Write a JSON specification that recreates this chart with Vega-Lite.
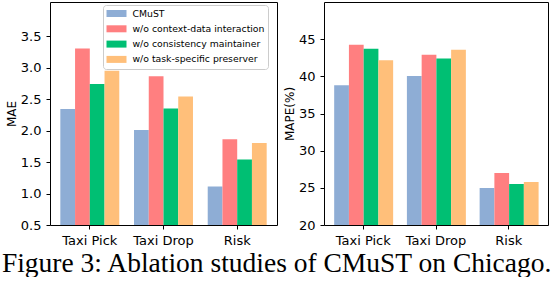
{
  "$schema": "https://vega.github.io/schema/vega-lite/v6.json",
  "padding": {"left": 0, "top": 1, "right": 8, "bottom": 0},
  "background": "white",
  "bounds": "flush",
  "datasets": {
    "ablation": [
      {"metric": "MAE", "task": "Taxi Pick", "model": "CMuST", "value": 2.34},
      {"metric": "MAE", "task": "Taxi Pick", "model": "w/o context-data interaction", "value": 3.30},
      {"metric": "MAE", "task": "Taxi Pick", "model": "w/o consistency maintainer", "value": 2.74},
      {"metric": "MAE", "task": "Taxi Pick", "model": "w/o task-specific preserver", "value": 2.95},
      {"metric": "MAE", "task": "Taxi Drop", "model": "CMuST", "value": 2.01},
      {"metric": "MAE", "task": "Taxi Drop", "model": "w/o context-data interaction", "value": 2.86},
      {"metric": "MAE", "task": "Taxi Drop", "model": "w/o consistency maintainer", "value": 2.35},
      {"metric": "MAE", "task": "Taxi Drop", "model": "w/o task-specific preserver", "value": 2.54},
      {"metric": "MAE", "task": "Risk", "model": "CMuST", "value": 1.11},
      {"metric": "MAE", "task": "Risk", "model": "w/o context-data interaction", "value": 1.86},
      {"metric": "MAE", "task": "Risk", "model": "w/o consistency maintainer", "value": 1.54},
      {"metric": "MAE", "task": "Risk", "model": "w/o task-specific preserver", "value": 1.80},
      {"metric": "MAPE", "task": "Taxi Pick", "model": "CMuST", "value": 38.8},
      {"metric": "MAPE", "task": "Taxi Pick", "model": "w/o context-data interaction", "value": 44.24},
      {"metric": "MAPE", "task": "Taxi Pick", "model": "w/o consistency maintainer", "value": 43.7},
      {"metric": "MAPE", "task": "Taxi Pick", "model": "w/o task-specific preserver", "value": 42.17},
      {"metric": "MAPE", "task": "Taxi Drop", "model": "CMuST", "value": 40.06},
      {"metric": "MAPE", "task": "Taxi Drop", "model": "w/o context-data interaction", "value": 42.89},
      {"metric": "MAPE", "task": "Taxi Drop", "model": "w/o consistency maintainer", "value": 42.4},
      {"metric": "MAPE", "task": "Taxi Drop", "model": "w/o task-specific preserver", "value": 43.56},
      {"metric": "MAPE", "task": "Risk", "model": "CMuST", "value": 24.98},
      {"metric": "MAPE", "task": "Risk", "model": "w/o context-data interaction", "value": 27.0},
      {"metric": "MAPE", "task": "Risk", "model": "w/o consistency maintainer", "value": 25.52},
      {"metric": "MAPE", "task": "Risk", "model": "w/o task-specific preserver", "value": 25.79}
    ]
  },
  "data": {"name": "ablation"},
  "title": {
    "text": "Figure 3: Ablation studies of CMuST on Chicago.",
    "orient": "bottom",
    "anchor": "middle",
    "font": "Liberation Serif",
    "fontSize": 27.5,
    "fontWeight": "normal",
    "color": "black",
    "offset": 2
  },
  "config": {
    "view": {"stroke": "black", "strokeWidth": 1},
    "concat": {"spacing": 47},
    "axis": {
      "labelFont": "DejaVu Sans",
      "labelFontSize": 13,
      "labelColor": "black",
      "tickColor": "black",
      "tickSize": 4,
      "labelPadding": 5,
      "domain": false,
      "grid": false,
      "titleFont": "DejaVu Sans",
      "titleFontSize": 12,
      "titleFontWeight": "normal",
      "titleColor": "black",
      "titlePadding": 2
    },
    "legend": {
      "fillColor": "white",
      "strokeColor": "#cccccc",
      "cornerRadius": 3,
      "padding": 3.5,
      "labelFont": "DejaVu Sans",
      "labelFontSize": 9.3,
      "labelColor": "black",
      "symbolType": "M-1,-0.7H3V0.7H-1Z",
      "symbolSize": 100,
      "symbolStrokeWidth": 0,
      "symbolOpacity": 1,
      "rowPadding": 4.3,
      "labelOffset": 16
    }
  },
  "resolve": {"scale": {"color": "independent"}, "legend": {"color": "independent"}},
  "hconcat": [
    {
      "width": 227,
      "height": 223,
      "transform": [{"filter": "datum.metric === 'MAE'"}],
      "mark": {"type": "bar", "clip": true},
      "encoding": {
        "x": {
          "field": "task", "type": "nominal",
          "sort": ["Taxi Pick", "Taxi Drop", "Risk"],
          "scale": {"paddingInner": 0.2, "paddingOuter": 0.14},
          "axis": {"title": null, "labelAngle": 0}
        },
        "xOffset": {
          "field": "model", "type": "nominal",
          "sort": ["CMuST", "w/o context-data interaction", "w/o consistency maintainer", "w/o task-specific preserver"],
          "scale": {"paddingInner": 0, "paddingOuter": 0}
        },
        "y": {
          "field": "value", "type": "quantitative",
          "scale": {"domain": [0.5, 4.04], "nice": false, "zero": false},
          "axis": {"title": "MAE", "values": [0.5, 1.0, 1.5, 2.0, 2.5, 3.0, 3.5], "format": ".1f"}
        },
        "color": {
          "field": "model", "type": "nominal",
          "sort": ["CMuST", "w/o context-data interaction", "w/o consistency maintainer", "w/o task-specific preserver"],
          "scale": {
            "domain": ["CMuST", "w/o context-data interaction", "w/o consistency maintainer", "w/o task-specific preserver"],
            "range": ["#8eadd5", "#ff7f80", "#00bf73", "#ffbf7a"]
          },
          "legend": {"title": null, "orient": "none", "legendX": 53, "legendY": 3}
        }
      }
    },
    {
      "width": 224,
      "height": 223,
      "transform": [{"filter": "datum.metric === 'MAPE'"}],
      "mark": {"type": "bar", "clip": true},
      "encoding": {
        "x": {
          "field": "task", "type": "nominal",
          "sort": ["Taxi Pick", "Taxi Drop", "Risk"],
          "scale": {"paddingInner": 0.2, "paddingOuter": 0.14},
          "axis": {"title": null, "labelAngle": 0}
        },
        "xOffset": {
          "field": "model", "type": "nominal",
          "sort": ["CMuST", "w/o context-data interaction", "w/o consistency maintainer", "w/o task-specific preserver"],
          "scale": {"paddingInner": 0, "paddingOuter": 0}
        },
        "y": {
          "field": "value", "type": "quantitative",
          "scale": {"domain": [20, 50], "nice": false, "zero": false},
          "axis": {"title": "MAPE(%)", "values": [20, 25, 30, 35, 40, 45]}
        },
        "color": {
          "field": "model", "type": "nominal",
          "scale": {
            "domain": ["CMuST", "w/o context-data interaction", "w/o consistency maintainer", "w/o task-specific preserver"],
            "range": ["#8eadd5", "#ff7f80", "#00bf73", "#ffbf7a"]
          },
          "legend": null
        }
      }
    }
  ]
}
